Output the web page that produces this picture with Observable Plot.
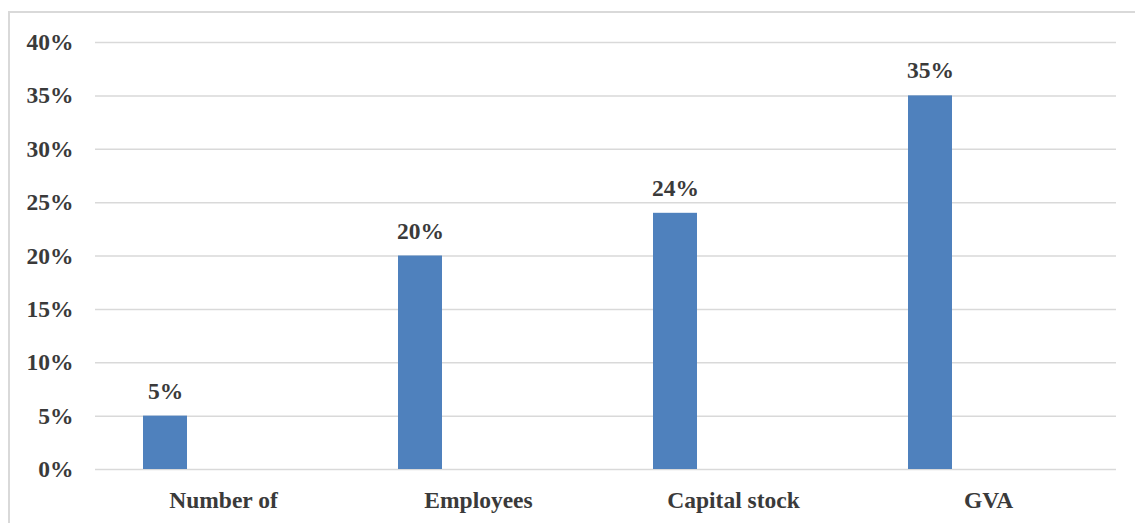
<!DOCTYPE html>
<html>
<head>
<meta charset="utf-8">
<script src="https://cdn.jsdelivr.net/npm/d3@7"></script>
<script src="https://cdn.jsdelivr.net/npm/@observablehq/plot@0.6"></script>
<style>
  html, body { margin: 0; padding: 0; background: #fff; overflow: hidden; }
  #wrap { position: relative; width: 1135px; height: 523px; }
  #border { position: absolute; left: 8px; top: 11px; width: 1200px; height: 600px;
            border-top: 2px solid #d9d9d9; border-left: 2px solid #d9d9d9; }
  #chart { position: absolute; left: 0; top: 0; }
</style>
</head>
<body>
<div id="wrap"><div id="border"></div><div id="chart"></div></div>
<script>
const categories = ["Number of", "Employees", "Capital stock", "GVA"];
const values = [5, 20, 24, 35];
const yTicks = [0, 5, 10, 15, 20, 25, 30, 35, 40];

const data = categories.map((c, i) => ({cat: c, value: values[i]}));
const pin = 1 - 44 / 255.25;

const chart = Plot.plot({
  width: 1135,
  height: 523,
  marginLeft: 95,
  marginRight: 19,
  marginTop: 42,
  marginBottom: 54,
  style: {fontFamily: "'Liberation Serif', 'Times New Roman', serif", fontSize: "23.5px", fontWeight: "bold", color: "#3a3a3a", background: "transparent"},
  x: {domain: categories, paddingInner: pin, paddingOuter: pin / 2, label: null, tickSize: 0, tickPadding: 22},
  y: {domain: [0, 40], ticks: yTicks, tickFormat: d => d + "%", label: null, tickSize: 0, tickPadding: 22},
  marks: [
    Plot.gridY(yTicks, {stroke: "#d9d9d9", strokeOpacity: 1, strokeWidth: 1.5}),
    Plot.barY(data, {x: "cat", y: "value", fill: "#4f81bd", dx: -58}),
    Plot.text(data, {x: "cat", y: "value", text: d => d.value + "%", dx: -58, dy: -25, fill: "#3a3a3a", fontSize: 23.5, fontWeight: "bold"})
  ]
});
document.getElementById("chart").appendChild(chart);
</script>
</body>
</html>
